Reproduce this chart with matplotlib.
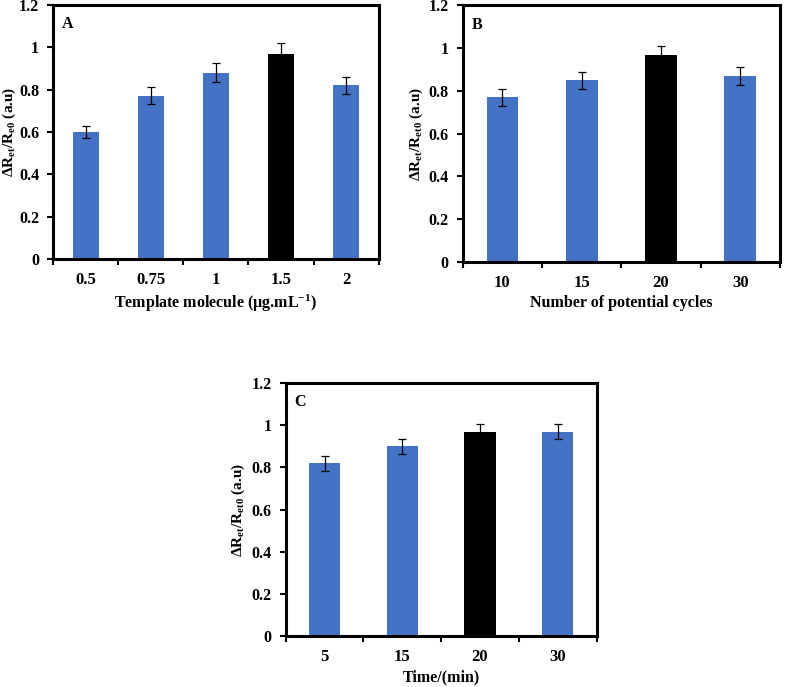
import matplotlib.pyplot as plt

plt.rcParams['font.family'] = ['Liberation Serif', 'DejaVu Serif']
plt.rcParams['font.weight'] = 'bold'
plt.rcParams['mathtext.fontset'] = 'custom'
plt.rcParams['mathtext.rm'] = 'Liberation Serif:bold'
plt.rcParams['mathtext.it'] = 'Liberation Serif:bold'
plt.rcParams['mathtext.bf'] = 'Liberation Serif:bold'

# panel A - template molecule
a_labels = ['0.5', '0.75', '1', '1.5', '2']
a_values = [0.60, 0.77, 0.88, 0.97, 0.82]
a_errors = [0.03, 0.04, 0.045, 0.05, 0.04]

# panel B - potential cycles
b_labels = ['10', '15', '20', '30']
b_values = [0.77, 0.85, 0.97, 0.87]
b_errors = [0.04, 0.04, 0.04, 0.04]

# panel C - time
c_labels = ['5', '15', '20', '30']
c_values = [0.82, 0.90, 0.97, 0.97]
c_errors = [0.035, 0.035, 0.035, 0.035]

blue = '#4472C4'

fig = plt.figure(figsize=(7.87, 6.87), dpi=100)


def panel(rect, labels, values, errors, best, letter, xlabel, ylabel, ylab_x):
    ax = fig.add_axes(rect)
    n = len(labels)
    x = list(range(n))
    colors = ['black' if i == best else blue for i in x]
    ax.bar(x, values, width=0.4, color=colors, zorder=2)
    ax.errorbar(x, values, yerr=errors, fmt='none', ecolor='black',
                elinewidth=0.9, capsize=3, capthick=0.9, zorder=3)
    ax.set_xlim(-0.5, n - 0.5)
    ax.set_ylim(0, 1.2)
    ax.set_yticks([0, 0.2, 0.4, 0.6, 0.8, 1.0, 1.2])
    ax.set_yticklabels(['0', '0.2', '0.4', '0.6', '0.8', '1', '1.2'])
    # category boundaries as major ticks, labels on minor ticks
    ax.set_xticks([i - 0.5 for i in range(n + 1)])
    ax.set_xticklabels([])
    ax.set_xticks(x, minor=True)
    ax.set_xticklabels(labels, minor=True)
    ax.tick_params(axis='x', which='major', direction='out', length=4, width=1.5)
    ax.tick_params(axis='x', which='minor', length=0, pad=9.5, labelsize=12)
    ax.tick_params(axis='y', direction='out', length=4, width=1.5,
                   labelsize=11.5, pad=6)
    for s in ax.spines.values():
        s.set_linewidth(2.2)
    ax.text(0.028, 0.925, letter, transform=ax.transAxes, fontsize=11.5,
            fontweight='bold', va='center')
    ax.set_xlabel(xlabel, fontsize=11.5, fontweight='bold', labelpad=3)
    ax.set_ylabel(ylabel, fontsize=11, fontweight='bold')
    ax.yaxis.set_label_coords(ylab_x, 0.5)
    ax.yaxis.label.set_verticalalignment('center')
    return ax


panel([0.0673, 0.623, 0.414, 0.370], a_labels, a_values, a_errors, 3, 'A',
      'Template molecule (µg.mL$^{-1}$)', 'ΔR$_{et}$/R$_{e0}$ (a.u)', -0.135)
panel([0.588, 0.619, 0.403, 0.373], b_labels, b_values, b_errors, 2, 'B',
      'Number of potential cycles', 'ΔR$_{et}$/R$_{et0}$ (a.u)', -0.145)
panel([0.363, 0.0742, 0.395, 0.368], c_labels, c_values, c_errors, 2, 'C',
      'Time/(min)', 'ΔR$_{et}$/R$_{et0}$ (a.u)', -0.151)

plt.savefig('out.png', dpi=100)
